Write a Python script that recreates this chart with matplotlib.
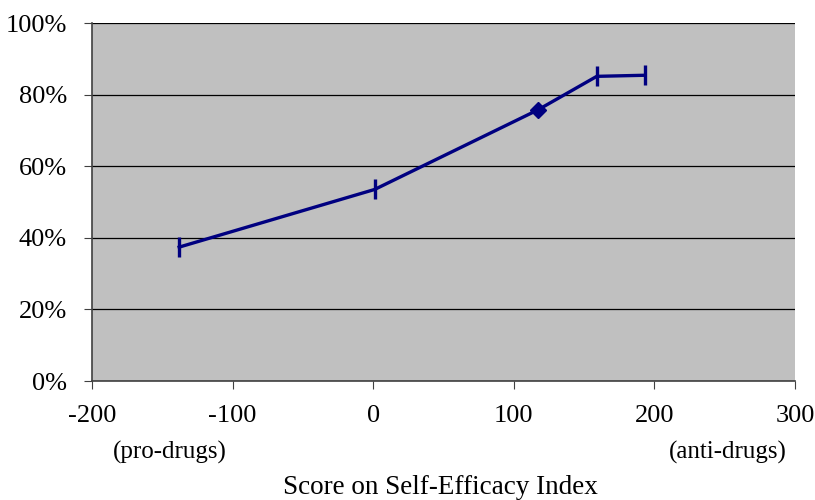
import matplotlib
matplotlib.use('Agg')
import matplotlib.pyplot as plt
from matplotlib.ticker import PercentFormatter

plt.rcParams['font.family'] = ['Liberation Serif', 'DejaVu Serif']
plt.rcParams['axes.unicode_minus'] = False

# data
score = [-138, 1, 117, 159, 193]
share = [37.4, 53.5, 75.7, 85.1, 85.4]
markers = ['|', '|', 'D', '|', '|']
x_ticks = [-200, -100, 0, 100, 200, 300]
y_ticks = [0, 20, 40, 60, 80, 100]

navy = '#000080'

fig = plt.figure(figsize=(8.15, 5.0), dpi=100)
ax = fig.add_axes([92 / 815, 1 - 381 / 500, 703 / 815, 358 / 500])
ax.set_facecolor('#c0c0c0')

ax.plot(score, share, color=navy, lw=2.4, zorder=3)
for x, y, m in zip(score, share, markers):
    if m == 'D':
        ax.plot(x, y, marker='D', ms=8, color=navy, zorder=4)
    else:
        ax.plot(x, y, marker='|', ms=14, mew=2.4, color=navy, zorder=4)

ax.set_xlim(-200, 300)
ax.set_ylim(0, 100)
ax.set_xticks(x_ticks)
ax.set_yticks(y_ticks)
ax.yaxis.set_major_formatter(PercentFormatter(decimals=0))
ax.grid(axis='y', color='black', lw=0.9, zorder=1)
ax.set_axisbelow(True)

for side in ['top', 'right']:
    ax.spines[side].set_visible(False)
for side in ['left', 'bottom']:
    ax.spines[side].set_color('#404040')
    ax.spines[side].set_linewidth(1.2)
ax.tick_params(axis='both', labelsize=19, direction='out', length=6, color='#404040')
ax.tick_params(axis='x', pad=11)
ax.tick_params(axis='y', pad=12)

fig.text(170 / 815, 1 - 452 / 500, '(pro-drugs)', fontsize=18, ha='center', va='center')
fig.text(728 / 815, 1 - 452 / 500, '(anti-drugs)', fontsize=18, ha='center', va='center')
fig.text(440 / 815, 1 - 487 / 500, 'Score on Self-Efficacy Index', fontsize=19.5, ha='center', va='center')

fig.savefig('out.png', dpi=100)
